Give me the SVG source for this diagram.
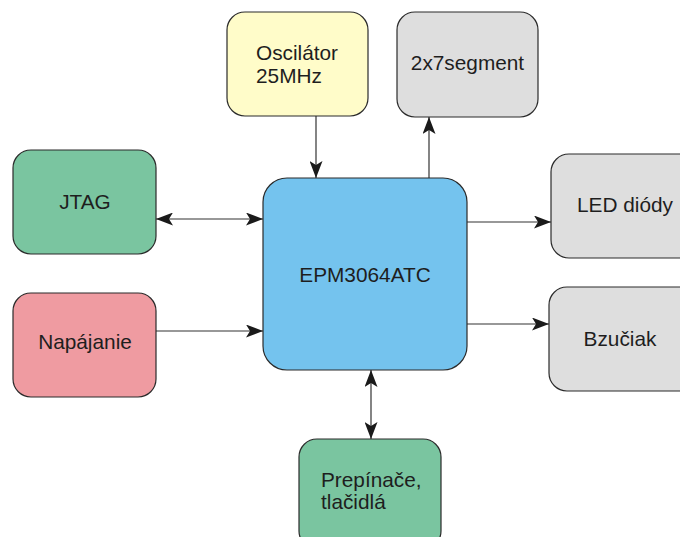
<svg xmlns="http://www.w3.org/2000/svg" width="680" height="537" viewBox="0 0 680 537">
<style>
.box{stroke:#2b2b2b;stroke-width:1.2}
.t{font-family:"Liberation Sans",Arial,sans-serif;font-size:20.8px;fill:#1e1e1e}
.c{text-anchor:middle}
.ln{stroke:#333;stroke-width:1.2;fill:none}
</style>
<defs>
<marker id="ah" viewBox="0 0 17 13" refX="17" refY="6.5" markerWidth="17" markerHeight="13" markerUnits="userSpaceOnUse" orient="auto-start-reverse">
<path d="M0,0 L17,6.5 L0,13 L4,6.5 Z" fill="#1a1a1a"/>
</marker>
</defs>
<rect width="680" height="537" fill="#fff"/>
<g id="connectors">
<line class="ln" x1="316" y1="116" x2="316" y2="178" marker-end="url(#ah)"/>
<line class="ln" x1="429" y1="178" x2="429" y2="117" marker-end="url(#ah)"/>
<line class="ln" x1="156" y1="219" x2="263" y2="219" marker-start="url(#ah)" marker-end="url(#ah)"/>
<line class="ln" x1="156" y1="331" x2="263" y2="331" marker-end="url(#ah)"/>
<line class="ln" x1="467" y1="222" x2="551" y2="222" marker-end="url(#ah)"/>
<line class="ln" x1="467" y1="324" x2="549" y2="324" marker-end="url(#ah)"/>
<line class="ln" x1="371" y1="370" x2="371" y2="439" marker-start="url(#ah)" marker-end="url(#ah)"/>
</g>
<g id="osc">
<rect class="box" x="227" y="12" width="141" height="104" rx="18" fill="#FFFCC9"/>
<text class="t" x="256" y="60">Oscilátor</text>
<text class="t" x="256" y="83">25MHz</text>
</g>
<g id="seg">
<rect class="box" x="397" y="12" width="141" height="105" rx="18" fill="#DEDEDE"/>
<text class="t c" x="467.5" y="70">2x7segment</text>
</g>
<g id="jtag">
<rect class="box" x="13" y="150" width="143" height="104" rx="18" fill="#7AC5A0"/>
<text class="t c" x="85" y="209">JTAG</text>
</g>
<g id="napajanie">
<rect class="box" x="13" y="293" width="143" height="104" rx="18" fill="#EF9BA1"/>
<text class="t c" x="85" y="349">Napájanie</text>
</g>
<g id="cpld">
<rect class="box" x="263" y="178" width="204" height="192" rx="24" fill="#74C3EE"/>
<text class="t c" x="365" y="282">EPM3064ATC</text>
</g>
<g id="led">
<rect class="box" x="551" y="154" width="150" height="104" rx="18" fill="#DEDEDE"/>
<text class="t" x="577" y="212">LED diódy</text>
</g>
<g id="bzuciak">
<rect class="box" x="549" y="287" width="150" height="104" rx="18" fill="#DEDEDE"/>
<text class="t c" x="620" y="346">Bzučiak</text>
</g>
<g id="prepinace">
<rect class="box" x="299" y="439" width="142" height="110" rx="18" fill="#7AC5A0"/>
<text class="t" x="321" y="487">Prepínače,</text>
<text class="t" x="321" y="509">tlačidlá</text>
</g>
</svg>
